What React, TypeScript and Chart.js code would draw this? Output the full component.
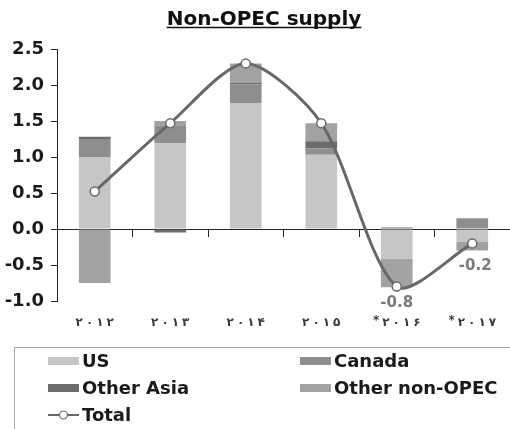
import { useEffect, useRef } from "react";
import { Chart, registerables } from "chart.js";

Chart.register(...registerables);

// Years (Persian-style digits), * marks forecast years
const categories = ["۲۰۱۲", "۲۰۱۳", "۲۰۱۴", "۲۰۱۵", "*۲۰۱۶", "*۲۰۱۷"];

// Annual change in supply, mb/d
const usValues = [1.0, 1.19, 1.75, 1.03, -0.41, -0.18];
const canadaValues = [0.25, 0.25, 0.26, 0.09, 0, 0.15];
const otherAsiaValues = [0.03, -0.05, 0.02, 0.1, 0.02, 0];
const otherNonOpecValues = [-0.75, 0.06, 0.27, 0.25, -0.4, -0.12];
const totalValues = [0.52, 1.47, 2.3, 1.47, -0.8, -0.2];

// Years whose total is written next to the point
const labelledYears = ["*۲۰۱۶", "*۲۰۱۷"];

const yMin = -1;
const yMax = 2.5;
const yStep = 0.5;

const FONT = "'DejaVu Sans', sans-serif";

const titlePlugin = {
  id: "underlinedTitle",
  afterDraw(chart: any) {
    const ctx = chart.ctx;
    const text = "Non-OPEC supply";
    ctx.save();
    ctx.font = `bold 20px ${FONT}`;
    ctx.fillStyle = "#111";
    ctx.textAlign = "center";
    ctx.textBaseline = "alphabetic";
    const cx = 264;
    ctx.fillText(text, cx, 25);
    const w = ctx.measureText(text).width;
    ctx.strokeStyle = "#111";
    ctx.lineWidth = 1.5;
    ctx.beginPath();
    ctx.moveTo(cx - w / 2, 27.5);
    ctx.lineTo(cx + w / 2, 27.5);
    ctx.stroke();
    ctx.restore();
  },
};

// Category labels under the plot, glyphs spread apart
const yearLabelPlugin = {
  id: "yearLabels",
  afterDraw(chart: any) {
    const ctx = chart.ctx;
    const xs = chart.scales.x;
    const gap = 3;
    ctx.save();
    ctx.font = `bold 12px ${FONT}`;
    ctx.fillStyle = "#3a3a3a";
    ctx.textAlign = "left";
    ctx.textBaseline = "middle";
    const y = chart.chartArea.bottom + 22;
    chart.data.labels.forEach((lab: string, i: number) => {
      const chars = Array.from(lab);
      const widths = chars.map((c) => ctx.measureText(c).width);
      const total = widths.reduce((a, b) => a + b, 0) + gap * (chars.length - 1);
      let x = xs.getPixelForValue(i) - total / 2;
      chars.forEach((c, k) => {
        ctx.fillText(c, x, c === "*" ? y - 2 : y);
        x += widths[k] + gap;
      });
    });
    ctx.restore();
  },
};

const totalLabelPlugin = {
  id: "totalLabels",
  afterDatasetsDraw(chart: any) {
    const ctx = chart.ctx;
    const idx = chart.data.datasets.findIndex((d: any) => d.type === "line");
    if (idx < 0) return;
    const meta = chart.getDatasetMeta(idx);
    const ds = chart.data.datasets[idx];
    ctx.save();
    ctx.font = `bold 15px ${FONT}`;
    ctx.fillStyle = "#7a7a7a";
    ctx.textAlign = "center";
    ctx.textBaseline = "middle";
    chart.data.labels.forEach((lab: string, i: number) => {
      if (!labelledYears.includes(lab)) return;
      const pt = meta.data[i];
      const last = i === chart.data.labels.length - 1;
      const dx = last ? 3 : 0;
      const dy = last ? 23 : 17;
      ctx.fillText(Number(ds.data[i]).toFixed(1), pt.x + dx, pt.y + dy);
    });
    ctx.restore();
  },
};

const boxLegendPlugin = {
  id: "boxLegend",
  afterDraw(chart: any) {
    const ctx = chart.ctx;
    ctx.save();
    ctx.strokeStyle = "#a8a8a8";
    ctx.lineWidth = 1;
    ctx.strokeRect(14.5, 347.5, 700, 200);
    const cols = [48, 300];
    const rows = [361, 388, 415];
    ctx.font = `bold 18px ${FONT}`;
    ctx.textBaseline = "middle";
    ctx.textAlign = "left";
    chart.data.datasets.forEach((ds: any, i: number) => {
      const x = cols[i % 2];
      const y = rows[Math.floor(i / 2)];
      if (ds.type === "line") {
        ctx.strokeStyle = ds.borderColor;
        ctx.lineWidth = 2;
        ctx.beginPath();
        ctx.moveTo(x, y);
        ctx.lineTo(x + 31, y);
        ctx.stroke();
        ctx.beginPath();
        ctx.arc(x + 15.5, y, 4, 0, Math.PI * 2);
        ctx.fillStyle = "#fff";
        ctx.fill();
        ctx.lineWidth = 1.2;
        ctx.strokeStyle = ds.pointBorderColor;
        ctx.stroke();
      } else {
        ctx.fillStyle = ds.backgroundColor;
        ctx.fillRect(x, y - 4, 31, 8);
      }
      ctx.fillStyle = "#1a1a1a";
      ctx.fillText(ds.label, x + 34, y + 1);
    });
    ctx.restore();
  },
};

export default function App() {
  const canvasRef = useRef<HTMLCanvasElement | null>(null);

  useEffect(() => {
    if (!canvasRef.current) return;
    Chart.defaults.font.family = FONT;
    const barBase = { type: "bar" as const, borderWidth: 0, order: 1 };
    const chart = new Chart(canvasRef.current, {
      type: "bar",
      data: {
        labels: categories,
        datasets: [
          { ...barBase, label: "US", data: usValues, backgroundColor: "#c6c6c6" },
          { ...barBase, label: "Canada", data: canadaValues, backgroundColor: "#8e8e8e" },
          { ...barBase, label: "Other Asia", data: otherAsiaValues, backgroundColor: "#6c6c6c" },
          { ...barBase, label: "Other non-OPEC", data: otherNonOpecValues, backgroundColor: "#a2a2a2" },
          {
            type: "line" as const,
            label: "Total",
            data: totalValues,
            borderColor: "#686868",
            borderWidth: 3,
            tension: 0.27,
            pointRadius: 4.5,
            pointBackgroundColor: "#ffffff",
            pointBorderColor: "#6a6a6a",
            pointBorderWidth: 1.5,
            order: 0,
          } as any,
        ],
      },
      options: {
        animation: false,
        responsive: false,
        devicePixelRatio: 1,
        layout: { padding: { left: 5, top: 49, right: 3, bottom: 106 } },
        datasets: { bar: { categoryPercentage: 1, barPercentage: 0.42 } },
        plugins: {
          legend: { display: false },
          title: { display: false },
          tooltip: { enabled: false },
        },
        scales: {
          x: {
            stacked: true,
            offset: true,
            ticks: { display: false },
            grid: { display: false, drawTicks: false },
            border: { display: false },
            afterFit: (s: any) => {
              s.height = 22;
            },
          },
          x2: {
            axis: "x",
            type: "category",
            position: { y: 0 },
            offset: true,
            z: 1,
            ticks: { display: false },
            grid: {
              offset: true,
              drawOnChartArea: false,
              drawTicks: true,
              tickLength: 7,
              color: "#222",
            },
            border: { display: true, color: "#222", width: 1 },
          },
          y: {
            stacked: true,
            min: yMin,
            max: yMax,
            ticks: {
              stepSize: yStep,
              padding: 7,
              color: "#1a1a1a",
              font: { size: 18, weight: "bold" },
              callback: (v: any) => Number(v).toFixed(1),
            },
            grid: { drawOnChartArea: false, drawTicks: true, tickLength: 6, color: "#222" },
            border: { display: true, color: "#222", width: 1 },
            afterFit: (s: any) => {
              s.width = 52;
            },
          },
        } as any,
      },
      plugins: [titlePlugin, yearLabelPlugin, totalLabelPlugin, boxLegendPlugin],
    });
    return () => chart.destroy();
  }, []);

  return (
    <div
      style={{
        position: "absolute",
        left: 0,
        top: 0,
        width: 510,
        height: 429,
        overflow: "hidden",
        background: "#fff",
      }}
    >
      <canvas ref={canvasRef} width={516} height={429} style={{ display: "block" }} />
    </div>
  );
}
